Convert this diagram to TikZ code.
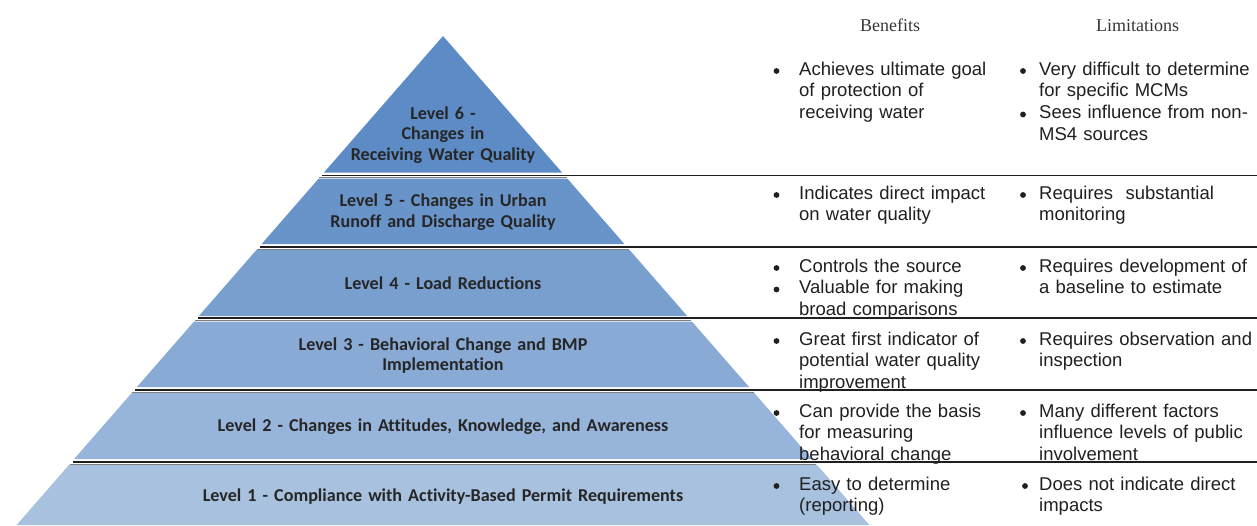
\documentclass[tikz,border=0pt]{standalone}
\usepackage{fontspec}
\setmainfont{Liberation Sans}
\newfontfamily\lvlfont{Carlito}[Ligatures={NoCommon}]
\newfontfamily\hdrfont{Liberation Serif}
\definecolor{Lsix}{HTML}{5C8BC5}
\definecolor{Lfive}{HTML}{6994CA}
\definecolor{Lfour}{HTML}{799FCF}
\definecolor{Lthree}{HTML}{88AAD5}
\definecolor{Ltwo}{HTML}{97B5DA}
\definecolor{Lone}{HTML}{A8C1DF}
\definecolor{txt}{HTML}{202020}
\definecolor{lvltxt}{HTML}{262626}
\begin{document}
\begin{tikzpicture}[x=1pt,y=-1pt,
  lvl/.style={font=\lvlfont\bfseries\fontsize{18.1}{20.6}\selectfont, text=lvltxt,
    text width=640pt, align=center, anchor=base, inner sep=0pt},
  item/.style={font=\fontsize{18.5}{21.6}\selectfont, text=txt,
    text width=220pt, align=left, anchor=base west, inner sep=0pt},
  bul/.style={circle, fill=txt, inner sep=0pt, minimum size=5.8pt},
  hdr/.style={font=\hdrfont\fontsize{18}{21}\selectfont, text=txt!90, anchor=base, inner sep=0pt},
  sepmain/.style={draw=black!88, line width=1.7pt},
  sepsub/.style={draw=black!50, line width=0.7pt}]
\useasboundingbox (0,0) rectangle (1257,525);
% pyramid layers
\foreach \t/\b/\c in {36/172.5/Lsix, 178.5/244/Lfive, 250/316/Lfour, 321.5/387/Lthree, 393/459/Ltwo, 464.5/525/Lone}{
  \fill[\c] ({443-0.872*(\t-36)},\t) -- ({443+0.872*(\t-36)},\t)
     -- ({443+0.872*(\b-36)},\b) -- ({443-0.872*(\b-36)},\b) -- cycle;
}
% separators
\foreach \y in {175.5, 247, 318, 390, 461.8}{
  \coordinate (sl) at ({443-0.872*(\y-36)+1},\y);
  \coordinate (sr) at (1257,\y);
  \draw[sepmain] (sl) -- (sr);
  \draw[sepsub] ({443-0.872*(\y+2.3-36)},\y+2.3) -- ({443+0.872*(\y+2.3-36)},\y+2.3);
}
% level labels
\node[lvl] (l6) at (443,119) {Level 6 -\\Changes in\\Receiving Water Quality};
\node[lvl] (l5) at (443,206.5) {Level 5 - Changes in Urban\\Runoff and Discharge Quality};
\node[lvl] (l4) at (443,289) {Level 4 - Load Reductions};
\node[lvl] (l3) at (443,350) {Level 3 - Behavioral Change and BMP\\Implementation};
\node[lvl] (l2) at (443,431) {Level 2 - Changes in Attitudes, Knowledge, and Awareness};
\node[lvl] (l1) at (443,501.5) {Level 1 - Compliance with Activity-Based Permit Requirements};
% headers
\node[hdr] (hb) at (890,31) {Benefits};
\node[hdr] (hl) at (1137.5,31) {Limitations};
% benefits
\node[bul] (bb6) at (776.5,71) {};
\node[item] (b6) at (799,75) {Achieves ultimate goal\\of protection of\\receiving water};
\node[bul] (bb5) at (776.5,195) {};
\node[item] (b5) at (799,199) {Indicates direct impact\\on water quality};
\node[bul] (bb4a) at (776.5,268) {};
\node[item] (b4a) at (799,272) {Controls the source};
\node[bul] (bb4b) at (776.5,289.5) {};
\node[item] (b4b) at (799,293.5) {Valuable for making\\broad comparisons};
\node[bul] (bb3) at (776.5,341) {};
\node[item] (b3) at (799,345) {Great first indicator of\\potential water quality\\improvement};
\node[bul] (bb2) at (776.5,413) {};
\node[item] (b2) at (799,417) {Can provide the basis\\for measuring\\behavioral change};
\node[bul] (bb1) at (776.5,486) {};
\node[item] (b1) at (799,490) {Easy to determine\\(reporting)};
% limitations
\node[bul] (lb6a) at (1023,71) {};
\node[item] (m6a) at (1039,75) {Very difficult to determine\\for specific MCMs};
\node[bul] (lb6b) at (1023,114.5) {};
\node[item] (m6b) at (1039,118.5) {Sees influence from non-\\MS4 sources};
\node[bul] (lb5) at (1023,195) {};
\node[item] (m5) at (1039,199) {Requires~ substantial\\monitoring};
\node[bul] (lb4) at (1023,268) {};
\node[item] (m4) at (1039,272) {Requires development of\\a baseline to estimate};
\node[bul] (lb3) at (1023,341) {};
\node[item] (m3) at (1039,345) {Requires observation and\\inspection};
\node[bul] (lb2) at (1023,413) {};
\node[item] (m2) at (1039,417) {Many different factors\\influence levels of public\\involvement};
\node[bul] (lb1) at (1025,486) {};
\node[item] (m1) at (1039,490) {Does not indicate direct\\impacts};
\end{tikzpicture}
\end{document}
